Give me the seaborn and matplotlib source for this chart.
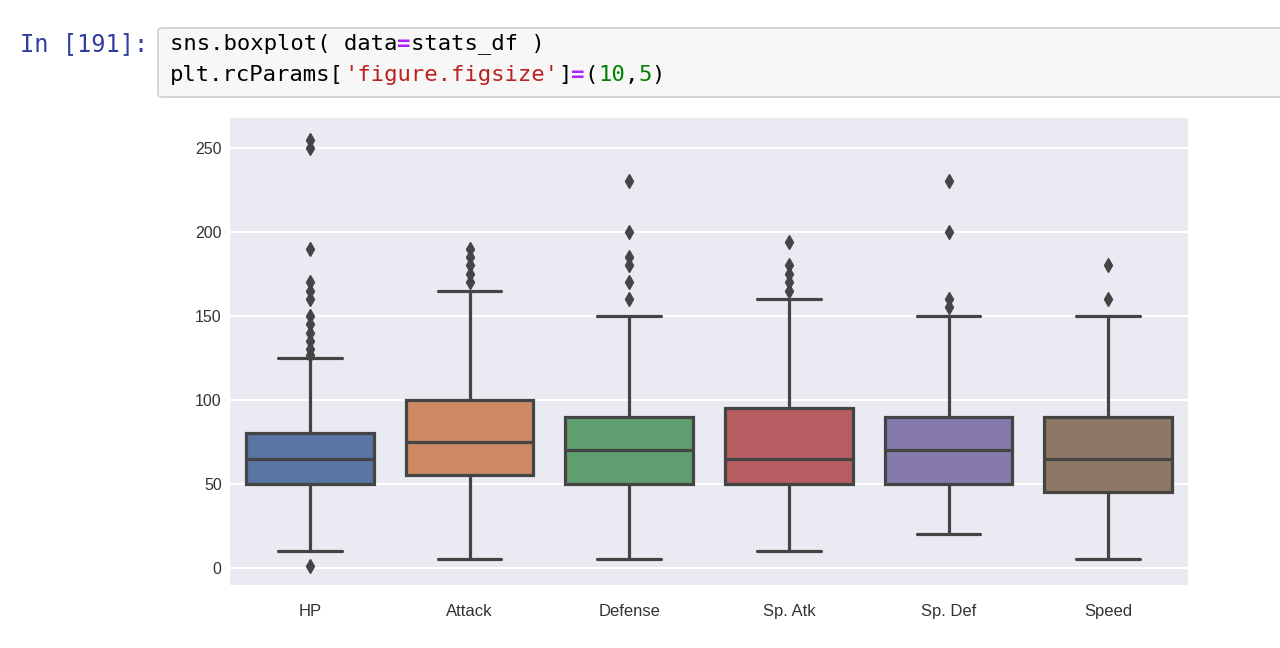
import numpy as np
import pandas as pd
import seaborn as sns
import matplotlib.pyplot as plt
from matplotlib.patches import FancyBboxPatch

# Box summary values
stats = ['HP', 'Attack', 'Defense', 'Sp. Atk', 'Sp. Def', 'Speed']
q1 = [50, 55, 50, 50, 50, 45]
median = [65, 75, 70, 65, 70, 65]
q3 = [80, 100, 90, 95, 90, 90]
whisker_lo = [10, 5, 5, 10, 20, 5]
whisker_hi = [125, 165, 150, 160, 150, 150]
outliers_lo = [[1], [], [], [], [], []]
outliers_hi = [
    [127, 130, 135, 140, 145, 150, 160, 165, 170, 190, 250, 255],
    [170, 175, 180, 185, 190],
    [160, 170, 180, 185, 200, 230],
    [165, 170, 175, 180, 194],
    [155, 160, 200, 230],
    [160, 180],
]

code_line1 = [("sns.boxplot( data", "black"), ("=", "#AA22FF"), ("stats_df )", "black")]
code_line2 = [("plt.rcParams[", "black"), ("'figure.figsize'", "#BA2121"), ("]", "black"),
              ("=", "#AA22FF"), ("(", "black"), ("10", "#008000"), (",", "black"),
              ("5", "#008000"), (")", "black")]


def build_column(i, n=201):
    # sorted sample whose 25/50/75 percentiles and whisker ends match the values above
    k = (n - 1) // 4
    col = np.empty(n)
    col[:k + 1] = q1[i]
    col[k + 1:2 * k + 1] = median[i]
    col[2 * k + 1:] = q3[i]
    lo = outliers_lo[i] + [whisker_lo[i]]
    hi = [whisker_hi[i]] + outliers_hi[i]
    col[:len(lo)] = lo
    col[n - len(hi):] = hi
    return col


stats_df = pd.DataFrame({s: build_column(i) for i, s in enumerate(stats)})

sns.set_theme(style='darkgrid')
plt.rcParams['font.family'] = ['Liberation Sans', 'DejaVu Sans']

fig = plt.figure(figsize=(12.8, 6.48), dpi=100)
fig.patch.set_facecolor('white')

# notebook cell chrome
W, H = 1280, 648
cell = FancyBboxPatch((158 / W, 1 - 97 / H), 1.2, 69 / H,
                      boxstyle='round,pad=0,rounding_size=0.004',
                      transform=fig.transFigure, facecolor='#f7f7f7',
                      edgecolor='#cfcfcf', linewidth=1.2)
fig.patches.append(cell)
fig.text(20 / W, 1 - 44 / H, 'In [191]:', family='DejaVu Sans Mono', fontsize=17,
         color='#303F9F', va='center')

char_w = 0.602 * 16 * 100 / 72
for line, y in [(code_line1, 44), (code_line2, 75)]:
    x = 170
    for txt, c in line:
        fig.text(x / W, 1 - y / H, txt, family='DejaVu Sans Mono', fontsize=16,
                 color=c, va='center', fontweight='bold' if c == '#AA22FF' else 'normal')
        x += len(txt) * char_w

ax = fig.add_axes([230 / W, 1 - 585 / H, 958 / W, 467 / H])
sns.boxplot(data=stats_df, ax=ax, palette='deep', saturation=0.75, width=0.8,
            linecolor='#444444', linewidth=2.3,
            flierprops=dict(marker='d', markersize=7, markerfacecolor='#444444',
                            markeredgecolor='#444444'))
ax.set_ylim(-10.2, 267.8)
ax.set_xlim(-0.5, 5.5)
ax.set_yticks([0, 50, 100, 150, 200, 250])
ax.xaxis.grid(False)
ax.yaxis.grid(True, color='white', linewidth=1.5)
ax.tick_params(axis='both', labelsize=12, labelcolor='#333333', length=0)
ax.tick_params(axis='y', labelsize=11.5, pad=6)
ax.tick_params(axis='x', pad=14)
for s in ax.spines.values():
    s.set_visible(False)

fig.savefig('out.png', dpi=100, facecolor='white')
